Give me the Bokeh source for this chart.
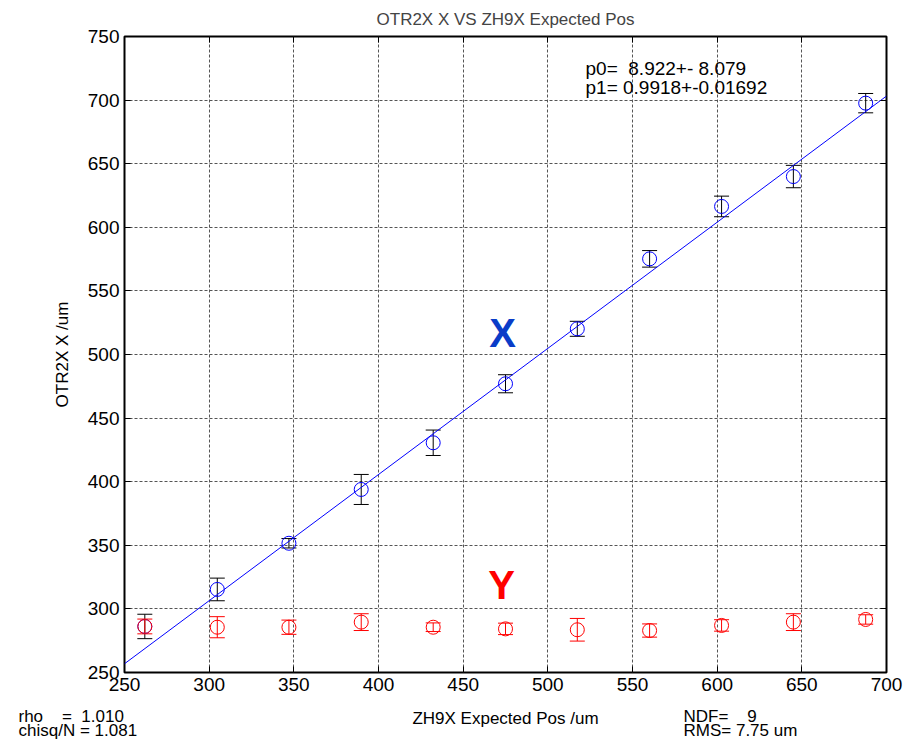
from bokeh.plotting import figure
from bokeh.models import (ColumnDataSource, Whisker, TeeHead, Label, LinearAxis, Range1d,
                          FixedTicker, Title)
from bokeh.embed import file_html
from bokeh.resources import INLINE

# Scan positions of ZH9X (um)
expected_pos = [262.0, 304.8, 347.1, 389.8, 432.3, 475.0, 517.4, 560.1, 602.6, 645.0, 687.7]
# OTR2X measured X and its error (um)
otr_x = [286.2, 315.3, 351.6, 393.9, 430.6, 477.0, 520.2, 575.2, 616.4, 639.9, 697.6]
otr_x_err = [9.6, 8.9, 3.7, 11.8, 10.0, 7.1, 5.9, 6.5, 8.1, 8.8, 7.6]
# OTR2X measured Y and its error (um)
otr_y = [286.2, 285.6, 285.6, 289.6, 285.6, 284.3, 283.6, 283.0, 287.0, 289.6, 291.7]
otr_y_err = [5.8, 8.3, 5.6, 6.6, 3.4, 4.5, 8.9, 5.2, 4.5, 6.6, 3.7]

# Linear fit of X vs expected position
fit_p0, fit_p0_err = 8.922, 8.079
fit_p1, fit_p1_err = 0.9918, 0.01692
fit_rho, fit_chisq = 1.010, 1.081
fit_ndf, fit_rms = 9, 7.75

x_ticks = [250, 300, 350, 400, 450, 500, 550, 600, 650, 700]
y_ticks = [250, 300, 350, 400, 450, 500, 550, 600, 650, 700, 750]
x_lim = (250, 700)
y_lim = (250, 750)

W, H = 912, 744
F_LEFT, F_RIGHT, F_TOP, F_BOTTOM = 124, 886, 36, 672

FONT = "Liberation Sans"
NB = "\u00a0"

p = figure(width=W, height=H, x_range=Range1d(*x_lim), y_range=Range1d(*y_lim),
           output_backend="svg", toolbar_location=None,
           min_border_left=F_LEFT, min_border_right=W - F_RIGHT,
           min_border_top=F_TOP, min_border_bottom=H - F_BOTTOM)
p.background_fill_color = "white"
p.border_fill_color = "white"
p.outline_line_color = "black"
p.outline_line_width = 2

p.title.text = "OTR2X X VS ZH9X Expected Pos"
p.title.align = "center"
p.title.vertical_align = "top"
p.title.text_font = FONT
p.title.text_font_size = "17px"
p.title.text_font_style = "normal"
p.title.standoff = 12

for ax in (p.xaxis[0], p.yaxis[0]):
    ax.major_tick_in = 6
    ax.major_tick_out = 0
    ax.minor_tick_line_color = None
    ax.axis_line_color = None
    ax.major_tick_line_color = "black"
    ax.major_label_text_font = FONT
    ax.major_label_text_font_size = "19px"
    ax.major_label_text_color = "black"
    ax.major_label_standoff = 5
    ax.axis_label_text_font = FONT
    ax.axis_label_text_font_size = "17px"
    ax.axis_label_text_font_style = "normal"
    ax.axis_label_text_color = "black"
p.xaxis.ticker = FixedTicker(ticks=x_ticks)
p.yaxis.ticker = FixedTicker(ticks=y_ticks)
p.xaxis.axis_label = "ZH9X Expected Pos /um"
p.xaxis.axis_label_standoff = 15
p.yaxis.axis_label = "OTR2X X /um"
p.yaxis.axis_label_standoff = 13

# tick marks on the top and right frame edges
for side, ticks in (("right", y_ticks), ("above", x_ticks)):
    ax = LinearAxis(ticker=FixedTicker(ticks=ticks))
    ax.major_tick_in = 6
    ax.major_tick_out = 0
    ax.minor_tick_line_color = None
    ax.axis_line_color = None
    ax.major_label_text_font_size = "1px"
    ax.major_label_text_color = None
    ax.major_label_standoff = 0
    p.add_layout(ax, side)

p.grid.grid_line_color = "#555555"
p.grid.grid_line_dash = "3 2"
p.grid.grid_line_width = 1
p.xgrid.ticker = FixedTicker(ticks=x_ticks)
p.ygrid.ticker = FixedTicker(ticks=y_ticks)

# fit line
fit_x = list(x_lim)
fit_y = [fit_p0 + fit_p1 * v for v in fit_x]
p.line(fit_x, fit_y, line_color="blue", line_width=1)

src_x = ColumnDataSource(dict(pos=expected_pos, val=otr_x,
                              lo=[v - e for v, e in zip(otr_x, otr_x_err)],
                              hi=[v + e for v, e in zip(otr_x, otr_x_err)]))
src_y = ColumnDataSource(dict(pos=expected_pos, val=otr_y,
                              lo=[v - e for v, e in zip(otr_y, otr_y_err)],
                              hi=[v + e for v, e in zip(otr_y, otr_y_err)]))

for src, bar_col, mark_col in ((src_x, "black", "blue"), (src_y, "red", "red")):
    w = Whisker(source=src, base="pos", lower="lo", upper="hi", line_color=bar_col, line_width=1,
                upper_head=TeeHead(size=15, line_color=bar_col, line_width=1),
                lower_head=TeeHead(size=15, line_color=bar_col, line_width=1))
    p.add_layout(w)
    p.scatter("pos", "val", source=src, marker="circle", size=14, fill_color=None,
              line_color=mark_col, line_width=1)


def add_text(txt, px, py, size, align="left", color="black", style="normal"):
    # screen units are measured from the frame's lower-left corner
    p.add_layout(Label(x=px - F_LEFT, y=F_BOTTOM - py, x_units="screen", y_units="screen",
                       text=txt, text_font=FONT, text_font_size=size, text_font_style=style,
                       text_align=align, text_baseline="middle", text_color=color))


add_text("p0=" + NB * 2 + "%.3f+- %.3f" % (fit_p0, fit_p0_err), 585, 68, "19px")
add_text("p1= %.4f+-%.5f" % (fit_p1, fit_p1_err), 585, 87, "19px")
add_text("X", 502, 332, "40px", align="center", color="#0a3cc8", style="bold")
add_text("Y", 501, 584, "40px", align="center", color="red", style="bold")


# fit summary under the x axis: a large negative standoff gives each title
# zero height, so both blocks share one row and are lifted beside the axis label
def add_summary(lines, px):
    t = Title(text="\n".join(lines), align="left", offset=px - F_LEFT,
              vertical_align="top", text_font=FONT, text_font_size="17px",
              text_font_style="normal", text_color="black", text_line_height=0.75,
              standoff=-47)
    p.add_layout(t, "below")


add_summary(["rho" + NB * 4 + "=" + NB * 2 + "%.3f" % fit_rho,
             "chisq/N = %.3f" % fit_chisq], 18)
add_summary(["NDF=" + NB * 4 + "%d" % fit_ndf,
             "RMS= %.2f um" % fit_rms], 683)

open("out.html", "w").write(file_html(p, INLINE))
